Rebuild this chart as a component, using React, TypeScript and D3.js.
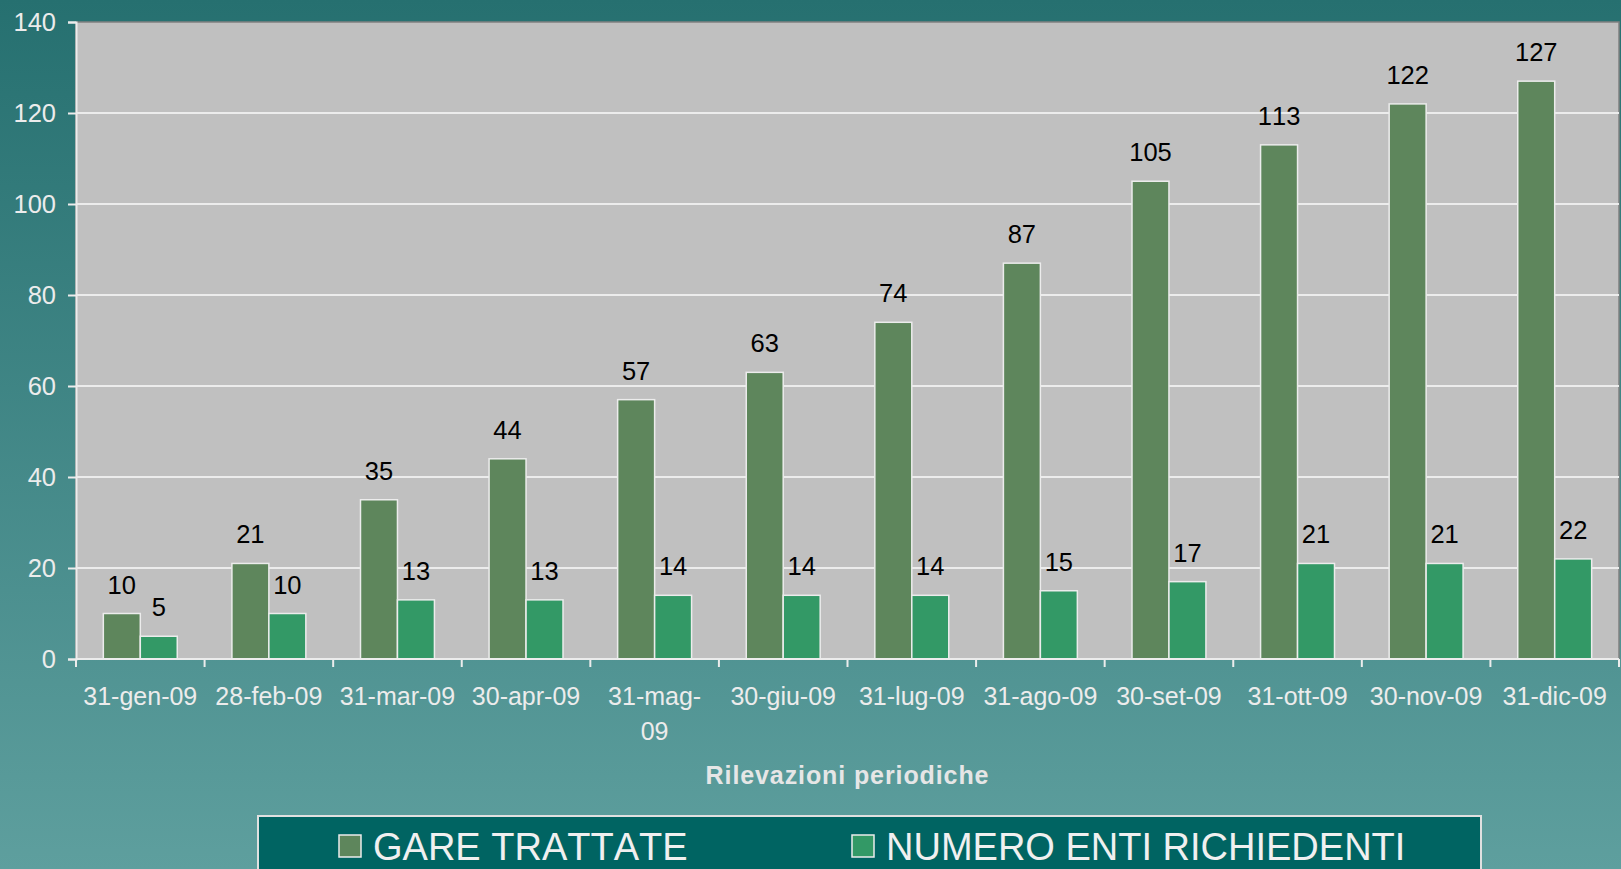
import { useEffect, useRef } from "react";
import * as d3 from "d3";

const categories = [
  "31-gen-09", "28-feb-09", "31-mar-09", "30-apr-09", "31-mag-09", "30-giu-09",
  "31-lug-09", "31-ago-09", "30-set-09", "31-ott-09", "30-nov-09", "31-dic-09",
];
const gareTrattate = [10, 21, 35, 44, 57, 63, 74, 87, 105, 113, 122, 127];
const numeroEnti = [5, 10, 13, 13, 14, 14, 14, 15, 17, 21, 21, 22];
const seriesNames = ["GARE TRATTATE", "NUMERO ENTI RICHIEDENTI"];
const seriesColors = ["#5e865c", "#339966"];
const yTicks = [0, 20, 40, 60, 80, 100, 120, 140];

const W = 1621;
const H = 869;
const FONT = "'Liberation Sans', Arial, sans-serif";

export default function App() {
  const ref = useRef<SVGSVGElement>(null);

  useEffect(() => {
    const svg = d3.select(ref.current);
    svg.selectAll("*").remove();
    svg.style("font-kerning", "none");

    const left = 76, right = 1619, top = 22, bottom = 659;

    const defs = svg.append("defs");
    const grad = defs.append("linearGradient")
      .attr("id", "bg").attr("x1", 0).attr("y1", 0).attr("x2", 0).attr("y2", 1);
    grad.append("stop").attr("offset", "0%").attr("stop-color", "#267070");
    grad.append("stop").attr("offset", "100%").attr("stop-color", "#5e9f9e");

    svg.append("rect").attr("width", W).attr("height", H).attr("fill", "url(#bg)");

    const y = d3.scaleLinear().domain([0, 140]).range([bottom, top]);
    const xCat = d3.scaleBand().domain(categories).range([left, right]);
    const x0 = d3.scaleBand().domain(categories).range([left, right])
      .paddingInner(0.425).paddingOuter(0.2125);
    const x1 = d3.scaleBand().domain(seriesNames).range([0, x0.bandwidth()]);

    // plot area
    svg.append("rect")
      .attr("x", left).attr("y", top)
      .attr("width", right - left).attr("height", bottom - top)
      .attr("fill", "#c0c0c0").attr("stroke", "#808080").attr("stroke-width", 1.5);

    // gridlines
    svg.append("g").selectAll("line")
      .data(yTicks.filter((d) => d > 0 && d < 140))
      .enter().append("line")
      .attr("x1", left).attr("x2", right)
      .attr("y1", (d) => y(d)).attr("y2", (d) => y(d))
      .attr("stroke", "#ececec").attr("stroke-width", 2);

    // bars
    const rows = categories.map((c, i) => ({ c, vals: [gareTrattate[i], numeroEnti[i]] }));
    const groups = svg.append("g").selectAll("g").data(rows).enter().append("g")
      .attr("transform", (d) => `translate(${x0(d.c)},0)`);

    groups.selectAll("rect")
      .data((d) => d.vals.map((v, k) => ({ v, k })))
      .enter().append("rect")
      .attr("x", (d) => x1(seriesNames[d.k])!)
      .attr("y", (d) => y(d.v))
      .attr("width", x1.bandwidth())
      .attr("height", (d) => y(0) - y(d.v))
      .attr("fill", (d) => seriesColors[d.k])
      .attr("stroke", "#ececec").attr("stroke-width", 1.5);

    groups.selectAll("text")
      .data((d) => d.vals.map((v, k) => ({ v, k })))
      .enter().append("text")
      .attr("x", (d) => x1(seriesNames[d.k])! + x1.bandwidth() / 2)
      .attr("y", (d) => y(d.v) - 20)
      .attr("text-anchor", "middle")
      .attr("font-family", FONT).attr("font-size", 25.5).attr("fill", "#000")
      .text((d) => d.v);

    // y axis
    const yAxis = svg.append("g")
      .attr("transform", `translate(${left},0)`)
      .call(d3.axisLeft(y).tickValues(yTicks).tickSize(8).tickPadding(12));
    yAxis.select(".domain").attr("stroke", "#ececec").attr("stroke-width", 2);
    yAxis.selectAll(".tick line").attr("stroke", "#ececec").attr("stroke-width", 2);
    yAxis.selectAll(".tick text")
      .attr("font-family", FONT).attr("font-size", 25.5).attr("fill", "#ececec");

    // x axis
    const xg = svg.append("g").attr("transform", `translate(0,${bottom})`);
    xg.append("line").attr("x1", left).attr("x2", right)
      .attr("stroke", "#ececec").attr("stroke-width", 2);
    xg.selectAll("line.tk")
      .data([...categories.map((c) => xCat(c)!), right])
      .enter().append("line").attr("class", "tk")
      .attr("x1", (d) => d).attr("x2", (d) => d)
      .attr("y1", 0).attr("y2", 8)
      .attr("stroke", "#ececec").attr("stroke-width", 2);

    const labels = xg.selectAll("text.lbl").data(categories).enter().append("text")
      .attr("class", "lbl")
      .attr("x", (d) => xCat(d)! + xCat.bandwidth() / 2)
      .attr("y", 46)
      .attr("text-anchor", "middle")
      .attr("font-family", FONT).attr("font-size", 25).attr("fill", "#ececec")
      .text((d) => d);
    // wrap labels wider than the category slot allows
    labels.each(function (d) {
      const t = this as SVGTextElement;
      if (t.getComputedTextLength() > 118) {
        const cut = d.lastIndexOf("-") + 1;
        const cx = xCat(d)! + xCat.bandwidth() / 2;
        d3.select(t).text(null);
        d3.select(t).append("tspan").attr("x", cx).text(d.slice(0, cut));
        d3.select(t).append("tspan").attr("x", cx).attr("dy", 35).text(d.slice(cut));
      }
    });

    svg.append("text")
      .attr("x", (left + right) / 2).attr("y", 784)
      .attr("text-anchor", "middle")
      .attr("font-family", FONT).attr("font-size", 25).attr("font-weight", "bold")
      .attr("letter-spacing", 0.9)
      .attr("fill", "#e6e6e6")
      .text("Rilevazioni periodiche");

    // legend
    const lg = svg.append("g");
    lg.append("rect").attr("x", 258).attr("y", 816).attr("width", 1223).attr("height", 70)
      .attr("fill", "#006462").attr("stroke", "#e0e0e0").attr("stroke-width", 2);
    const legendX = [339, 852];
    seriesNames.forEach((name, k) => {
      lg.append("rect").attr("x", legendX[k]).attr("y", 835).attr("width", 22).attr("height", 22)
        .attr("fill", seriesColors[k]).attr("stroke", "#ececec").attr("stroke-width", 1.5);
      lg.append("text").attr("x", legendX[k] + 34).attr("y", 860)
        .attr("font-family", FONT).attr("font-size", 38).attr("fill", "#f0f0f0")
        .text(name);
    });
  }, []);

  return (
    <div style={{ position: "fixed", left: 0, top: 0, width: W, height: H }}>
      <svg ref={ref} width={W} height={H} style={{ display: "block" }}></svg>
    </div>
  );
}
